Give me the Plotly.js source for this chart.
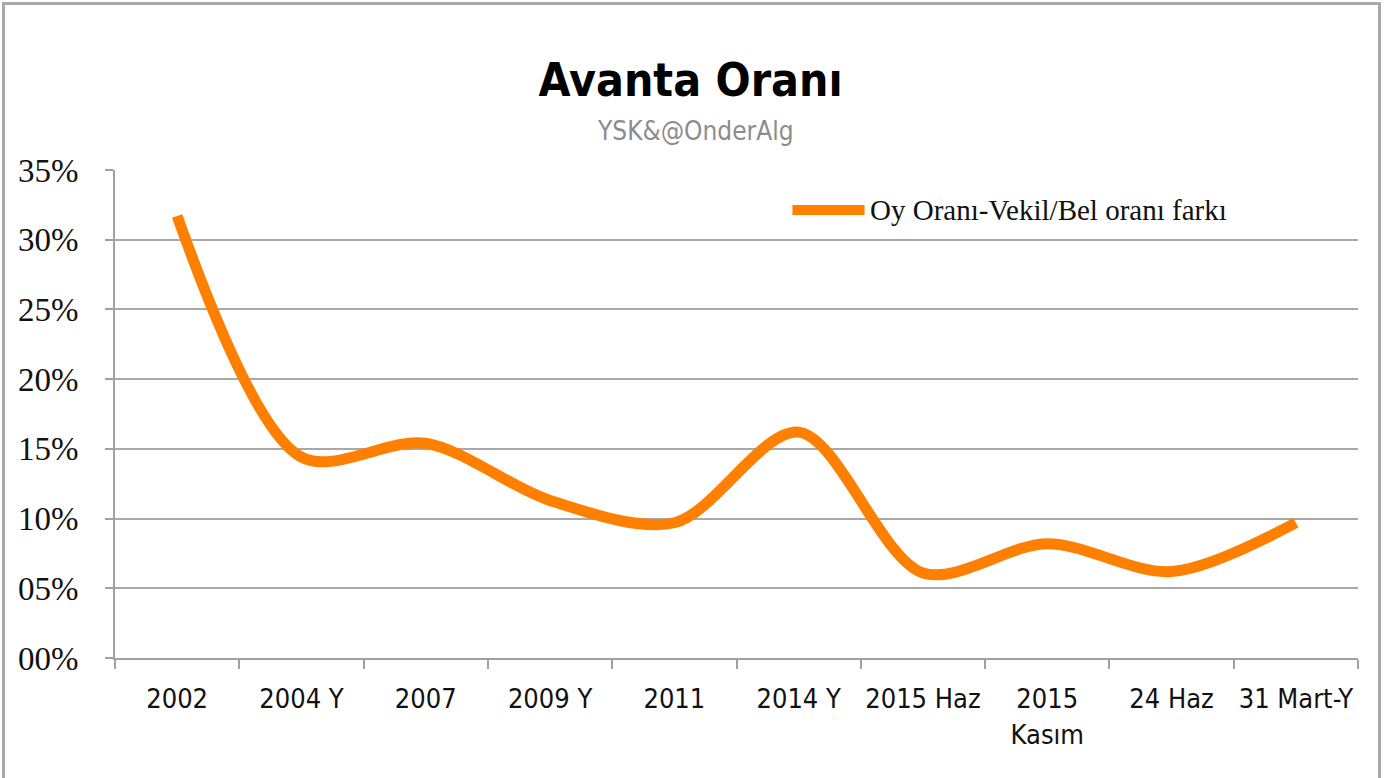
<!DOCTYPE html>
<html>
<head>
<meta charset="utf-8">
<script src="https://cdn.plot.ly/plotly-3.0.1.min.js"></script>
<style>
  body { margin: 0; background: #fff; }
  #chart { width: 1398px; height: 778px; }
  #frame {
    position: absolute; left: 2px; top: 2px; width: 1373px; height: 780px;
    border: 3px solid #a9a9a9; border-bottom: none; pointer-events: none;
  }
</style>
</head>
<body>
<div id="chart"></div>
<div id="frame"></div>
<script>
var periods = ["2002", "2004 Y", "2007", "2009 Y", "2011", "2014 Y", "2015 Haz", "2015<br>Kasım", "24 Haz", "31 Mart-Y"];
var gap = [0.317, 0.144, 0.154, 0.113, 0.097, 0.162, 0.061, 0.082, 0.062, 0.097];

var yTicks = [0, 0.05, 0.10, 0.15, 0.20, 0.25, 0.30, 0.35];
var yLabels = ["00%", "05%", "10%", "15%", "20%", "25%", "30%", "35%"];

var seriesName = "Oy Oranı-Vekil/Bel oranı farkı";
var narrow = "DejaVu Sans Condensed, Liberation Sans, Arial, sans-serif";
var serif = "Liberation Serif, Times New Roman, serif";

var trace = [{
    x: periods,
    y: gap,
    type: "scatter",
    mode: "lines",
    name: seriesName,
    line: {color: "#ff8000", width: 11, shape: "spline", smoothing: 0.9}
}];

var layout = {
    width: 1398,
    height: 778,
    margin: {l: 115, r: 40, t: 170, b: 120},
    paper_bgcolor: "#fff",
    plot_bgcolor: "#fff",
    title: {
        text: "<b>Avanta Oranı</b>",
        font: {family: narrow, size: 46, color: "#000"},
        x: 0.494, xanchor: "center",
        y: 0.897, yanchor: "middle"
    },
    showlegend: false,
    annotations: [
        {
            text: "YSK&@OnderAlg", showarrow: false,
            xref: "paper", yref: "paper", x: 0.467, y: 1.08,
            xanchor: "center", yanchor: "middle",
            font: {family: narrow, size: 26, color: "#8c8c8c"}
        },
        {
            // legend label
            text: seriesName, showarrow: false,
            xref: "paper", yref: "paper", x: 0.606, y: 0.918,
            xanchor: "left", yanchor: "middle",
            font: {family: serif, size: 29, color: "#111"}
        }
    ],
    shapes: [
        // legend sample line
        {type: "line", xref: "paper", yref: "paper", x0: 0.545, x1: 0.603, y0: 0.918, y1: 0.918,
         line: {color: "#ff8000", width: 10}}
    ],
    xaxis: {
        type: "category",
        range: [-0.5, 9.5],
        showline: true, linecolor: "#a0a0a0", linewidth: 2,
        ticks: "outside", tickson: "boundaries", ticklen: 9, tickcolor: "#a0a0a0", tickwidth: 2,
        showgrid: false,
        tickangle: 0,
        ticklabelstandoff: 16,
        tickfont: {family: narrow, size: 27, color: "#111"}
    },
    yaxis: {
        range: [0, 0.35],
        tickvals: yTicks,
        ticktext: yLabels,
        showline: true, linecolor: "#a0a0a0", linewidth: 2,
        ticks: "outside", ticklen: 8, tickcolor: "#a0a0a0", tickwidth: 2,
        showgrid: true, gridcolor: "#a8a8a8", gridwidth: 2,
        zeroline: false,
        ticklabelstandoff: 20,
        tickfont: {family: serif, size: 33, color: "#111"}
    }
};

Plotly.newPlot("chart", trace, layout, {displayModeBar: false});
</script>
</body>
</html>
